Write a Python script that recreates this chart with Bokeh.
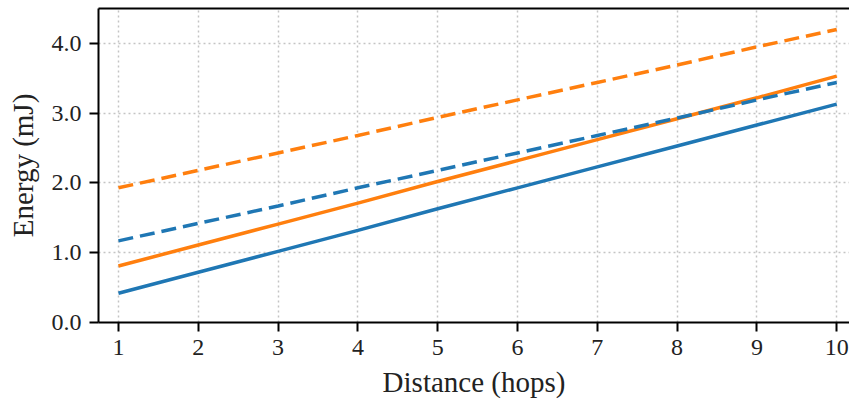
from bokeh.plotting import figure
from bokeh.models import Range1d, FixedTicker, LinearAxis
from bokeh.embed import file_html
from bokeh.resources import INLINE

hops = [1, 2, 3, 4, 5, 6, 7, 8, 9, 10]
blue_solid = [0.42, 0.72, 1.02, 1.32, 1.63, 1.93, 2.23, 2.53, 2.83, 3.13]
orange_solid = [0.81, 1.11, 1.41, 1.71, 2.02, 2.32, 2.62, 2.92, 3.22, 3.53]
blue_dashed = [1.17, 1.42, 1.67, 1.93, 2.18, 2.43, 2.68, 2.93, 3.19, 3.44]
orange_dashed = [1.93, 2.18, 2.43, 2.68, 2.94, 3.19, 3.44, 3.69, 3.95, 4.20]
y_ticks = [0, 1, 2, 3, 4]
y_tick_labels = ["0.0", "1.0", "2.0", "3.0", "4.0"]

BLUE = "#1f77b4"
ORANGE = "#ff7f0e"
FONT = "Liberation Serif"

p = figure(width=849, height=403, output_backend="svg", toolbar_location=None,
           x_range=Range1d(0.75, 10.16), y_range=Range1d(0, 4.5),
           min_border_left=98, min_border_right=0, min_border_top=8, min_border_bottom=81)

p.line(hops, blue_solid, line_color=BLUE, line_width=3.5)
p.line(hops, orange_solid, line_color=ORANGE, line_width=3.5)
p.line(hops, blue_dashed, line_color=BLUE, line_width=3.5, line_dash="15 7")
p.line(hops, orange_dashed, line_color=ORANGE, line_width=3.5, line_dash="15 7")

p.outline_line_color = None
p.background_fill_color = "white"
p.border_fill_color = "white"

xax = p.below[0]
yax = p.left[0]

top = LinearAxis(axis_line_color="black", axis_line_width=2,
                 major_tick_line_color=None, minor_tick_line_color=None,
                 major_label_standoff=0, axis_label_standoff=0,
                 major_tick_out=0, major_tick_in=0, minor_tick_out=0, minor_tick_in=0)
top.ticker = FixedTicker(ticks=[])
p.add_layout(top, "above")

for g in (p.xgrid, p.ygrid):
    g.grid_line_color = "#c4c4c4"
    g.grid_line_width = 1.5
    g.grid_line_dash = "2 3"

xax.ticker = FixedTicker(ticks=hops)
yax.ticker = FixedTicker(ticks=y_ticks)
yax.major_label_overrides = {t: l for t, l in zip(y_ticks, y_tick_labels)}

for ax in (xax, yax):
    ax.axis_line_color = "black"
    ax.axis_line_width = 2
    ax.major_tick_line_color = "black"
    ax.major_tick_line_width = 2
    ax.major_tick_out = 9
    ax.major_tick_in = 0
    ax.minor_tick_out = 0
    ax.minor_tick_in = 0
    ax.major_label_text_font = FONT
    ax.major_label_text_font_size = "24px"
    ax.major_label_text_color = "#222222"
    ax.axis_label_text_font = FONT
    ax.axis_label_text_font_size = "29px"
    ax.axis_label_text_font_style = "normal"
    ax.axis_label_text_color = "#222222"
    ax.major_label_standoff = 8

xax.axis_label = "Distance (hops)"
yax.axis_label = "Energy (mJ)"
xax.axis_label_standoff = 8
yax.axis_label_standoff = 10

open("out.html", "w").write(file_html(p, INLINE))
